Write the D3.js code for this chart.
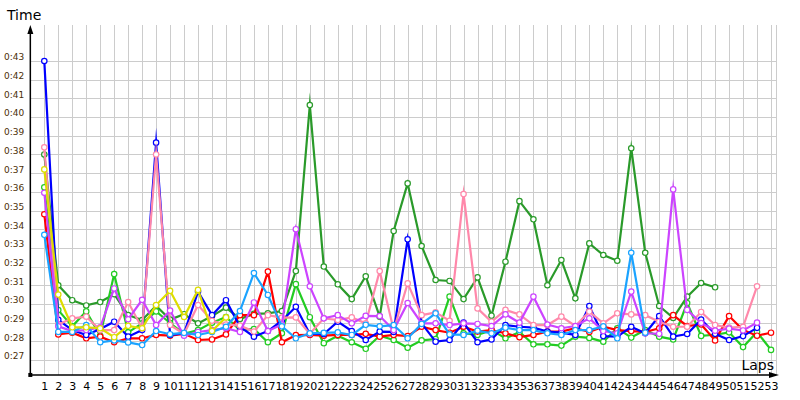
<!DOCTYPE html>
<html>
<head>
<meta charset="utf-8">
<script src="https://cdn.jsdelivr.net/npm/d3@7"></script>
<style>
  body { margin: 0; background: #fff; }
  text { font-family: "DejaVu Sans", Verdana, sans-serif; }
</style>
</head>
<body>
<div id="chart"></div>
<script>
// lap numbers and y ticks (seconds)
var laps = d3.range(1, 54);
var timeTicks = d3.range(27, 44);

// lap times in seconds, one array per driver
var darkGreenTimes = [38.0, 31.0, 30.2, 29.92, 30.1, 30.52, 29.4, 29.14, 29.9, 29.16, 29.45, 28.96, 29.35, 29.8, 29.2, 29.47, 29.5, 29.62, 31.76, 40.64,
  32.0, 31.05, 30.26, 31.48, 29.32, 33.9, 36.45, 33.1, 31.28, 31.23, 30.26, 31.42, 29.37, 32.26, 35.5, 34.53, 31.0, 32.35, 30.3, 33.24,
  32.62, 32.31, 38.33, 32.74, 29.89, 29.25, 30.39, 31.12, 30.89];
var lightGreenTimes = [36.24, 29.67, 28.8, 29.6, 28.3, 31.6, 28.48, 28.96, 29.6, 28.98, 28.4, 28.6, 29.0, 29.3, 28.6, 28.66, 27.95, 28.43, 31.06, 29.29,
  27.9, 28.3, 27.95, 27.6, 28.3, 28.07, 27.66, 28.05, 28.12, 30.39, 28.43, 28.34, 28.6, 28.16, 28.5, 27.84, 27.84, 27.77, 28.25, 28.18,
  27.98, 28.7, 28.2, 28.6, 28.25, 28.1, 30.05, 28.29, 28.35, 28.48, 27.69, 28.5, 27.54];
var redTimes = [34.8, 28.37, 28.46, 28.16, 28.25, 27.95, 28.16, 28.16, 28.34, 28.3, 28.4, 28.07, 28.1, 28.37, 29.4, 29.4, 31.73, 27.95, 28.33, 28.34,
  28.3, 28.34, 28.34, 28.4, 28.25, 28.34, 28.28, 28.78, 28.6, 28.46, 28.78, 28.52, 28.6, 28.43, 28.22, 28.34, 28.52, 28.52, 28.7, 28.5,
  28.78, 28.6, 28.55, 28.5, 28.7, 29.4, 28.82, 28.9, 28.05, 29.35, 28.6, 28.3, 28.46];
var pinkTimes = [38.38, 28.9, 29.23, 29.32, 28.6, 28.6, 30.1, 28.7, 38.0, 28.87, 28.4, 29.94, 29.1, 28.9, 28.84, 28.52, 29.4, 29.27, 29.28, 28.4,
  29.23, 29.14, 29.28, 28.96, 31.76, 28.6, 31.1, 29.4, 29.55, 29.1, 35.88, 29.76, 29.05, 29.68, 29.44, 28.87, 28.87, 29.32, 28.82, 29.59,
  28.96, 29.5, 29.44, 29.4, 29.05, 28.78, 28.78, 29.57, 28.87, 28.73, 28.78, 30.94];
var purpleTimes = [35.95, 28.8, 28.55, 28.6, 28.75, 30.83, 29.18, 30.22, 28.87, 29.65, 28.3, 28.5, 28.6, 28.7, 28.5, 30.08, 28.55, 28.9, 34.0, 30.94,
  29.23, 29.4, 28.96, 29.36, 29.35, 28.6, 30.05, 28.96, 28.96, 28.87, 28.96, 28.93, 28.82, 29.44, 29.0, 30.39, 28.9, 28.7, 28.82, 29.23,
  28.55, 28.43, 30.66, 28.43, 28.4, 36.13, 29.68, 28.98, 28.57, 28.68, 28.58, 29.0];
var blueTimes = [43.0, 29.15, 28.6, 28.34, 28.66, 29.05, 28.25, 28.6, 38.63, 28.34, 28.43, 30.66, 29.4, 30.2, 28.78, 28.25, 28.55, 29.1, 29.85, 28.39,
  28.39, 29.05, 28.55, 28.07, 28.52, 28.5, 33.46, 28.96, 27.98, 28.07, 29.0, 27.95, 28.1, 28.87, 28.78, 28.73, 28.52, 28.46, 28.34, 29.89,
  28.28, 28.25, 28.78, 28.43, 29.35, 28.25, 28.39, 29.16, 28.4, 28.07, 28.28, 28.72];
var lightBlueTimes = [33.7, 28.5, 28.5, 28.87, 27.95, 28.05, 27.94, 27.8, 28.55, 28.38, 28.45, 28.34, 28.5, 28.78, 29.62, 31.65, 30.48, 28.8, 28.16, 28.43,
  28.45, 28.48, 28.34, 28.88, 28.8, 28.87, 28.16, 28.93, 29.5, 28.37, 28.34, 28.57, 28.43, 28.73, 28.6, 28.6, 28.43, 28.34, 28.6, 28.6,
  28.8, 28.16, 32.74, 28.46];
var yellowTimes = [37.2, 30.5, 28.75, 28.75, 28.7, 28.22, 28.83, 28.7, 29.94, 30.7, 29.3, 30.75, 28.55, 29.28];

// drawing order: first is at the bottom
var series = [
  { color: "#2a9a2a", values: darkGreenTimes },
  { color: "#22cc22", values: lightGreenTimes },
  { color: "#ff0000", values: redTimes },
  { color: "#0000ff", values: blueTimes },
  { color: "#ff88aa", values: pinkTimes },
  { color: "#cc44ff", values: purpleTimes },
  { color: "#1aa3ff", values: lightBlueTimes },
  { color: "#dddd00", values: yellowTimes }
];

var svgWidth = 800, svgHeight = 400;

var svg = d3.select("#chart")
  .append("svg")
  .attr("width", svgWidth)
  .attr("height", svgHeight);

// scales
var xScale = d3.scaleLinear().domain([1, 53]).range([44.3, 771]);
var yScale = d3.scaleLinear().domain([27, 43]).range([360, 61]);

var axisX = xScale(0);      // y axis sits at lap 0
var axisY = yScale(26.2);   // x axis a bit under 0:27
var gridTop = 25;
var gridRight = 776;

// grid
var grid = svg.append("g").attr("shape-rendering", "crispEdges");
grid.selectAll(".vgrid")
  .data(laps)
  .enter()
  .append("line")
  .attr("x1", d => Math.round(xScale(d)) + 0.5)
  .attr("x2", d => Math.round(xScale(d)) + 0.5)
  .attr("y1", gridTop)
  .attr("y2", axisY)
  .attr("stroke", "#cccccc");
grid.append("line")
  .attr("x1", gridRight + 0.5).attr("x2", gridRight + 0.5)
  .attr("y1", gridTop).attr("y2", axisY)
  .attr("stroke", "#cccccc");
grid.selectAll(".hgrid")
  .data(timeTicks)
  .enter()
  .append("line")
  .attr("x1", axisX)
  .attr("x2", gridRight)
  .attr("y1", d => Math.round(yScale(d)) + 0.5)
  .attr("y2", d => Math.round(yScale(d)) + 0.5)
  .attr("stroke", "#cccccc");

// y tick labels
var yAxis = d3.axisLeft(yScale)
  .tickValues(timeTicks)
  .tickSize(0)
  .tickPadding(0)
  .tickFormat(d => "0:" + d);
var yAxisG = svg.append("g")
  .attr("transform", "translate(4,-4)")
  .call(yAxis);
yAxisG.select(".domain").remove();
yAxisG.selectAll("text")
  .attr("text-anchor", "start")
  .attr("x", 0)
  .attr("fill", "#4a2e08")
  .style("font-size", "9px")
  .style("font-family", "'DejaVu Sans', Verdana, sans-serif");

// x tick labels
var xAxis = d3.axisBottom(xScale)
  .tickValues(laps)
  .tickSize(0)
  .tickPadding(7)
  .tickFormat(d => d);
var xAxisG = svg.append("g")
  .attr("transform", `translate(0, ${axisY})`)
  .call(xAxis);
xAxisG.select(".domain").remove();
xAxisG.selectAll("text")
  .attr("fill", "#000")
  .style("font-size", "11px")
  .style("font-family", "'DejaVu Sans', Verdana, sans-serif");

// axes lines with arrows
svg.append("line")
  .attr("x1", axisX).attr("x2", axisX)
  .attr("y1", 30).attr("y2", axisY)
  .attr("stroke", "#000").attr("stroke-width", 1.5);
svg.append("path")
  .attr("d", `M${axisX},${gridTop} L${axisX - 3},${gridTop + 9} L${axisX + 3},${gridTop + 9} Z`)
  .attr("fill", "#000");
svg.append("line")
  .attr("x1", axisX).attr("x2", 772)
  .attr("y1", axisY).attr("y2", axisY)
  .attr("stroke", "#000").attr("stroke-width", 1.5);
svg.append("path")
  .attr("d", `M779,${axisY} L769,${axisY - 3} L769,${axisY + 3} Z`)
  .attr("fill", "#000");
svg.append("rect")
  .attr("x", axisX - 2).attr("y", axisY - 2)
  .attr("width", 4).attr("height", 4)
  .attr("fill", "#000");

// axis titles
svg.append("text")
  .attr("x", 7).attr("y", 20)
  .attr("font-size", "14px")
  .attr("fill", "#000")
  .text("Time");
svg.append("text")
  .attr("x", 774).attr("y", 370)
  .attr("text-anchor", "end")
  .attr("font-size", "14px")
  .attr("fill", "#000")
  .text("Laps");

// lines + markers
var line = d3.line()
  .x((d, i) => xScale(i + 1))
  .y(d => yScale(d));

series.forEach(function(s) {
  var g = svg.append("g");
  g.append("path")
    .datum(s.values)
    .attr("d", line)
    .attr("fill", "none")
    .attr("stroke", s.color)
    .attr("stroke-width", 2.2)
    .attr("stroke-linejoin", "miter")
    .attr("stroke-miterlimit", 15);
  g.selectAll("circle")
    .data(s.values)
    .enter()
    .append("circle")
    .attr("cx", (d, i) => xScale(i + 1))
    .attr("cy", d => yScale(d))
    .attr("r", 2.7)
    .attr("fill", "#fff")
    .attr("stroke", s.color)
    .attr("stroke-width", 1.2);
});
</script>
</body>
</html>
